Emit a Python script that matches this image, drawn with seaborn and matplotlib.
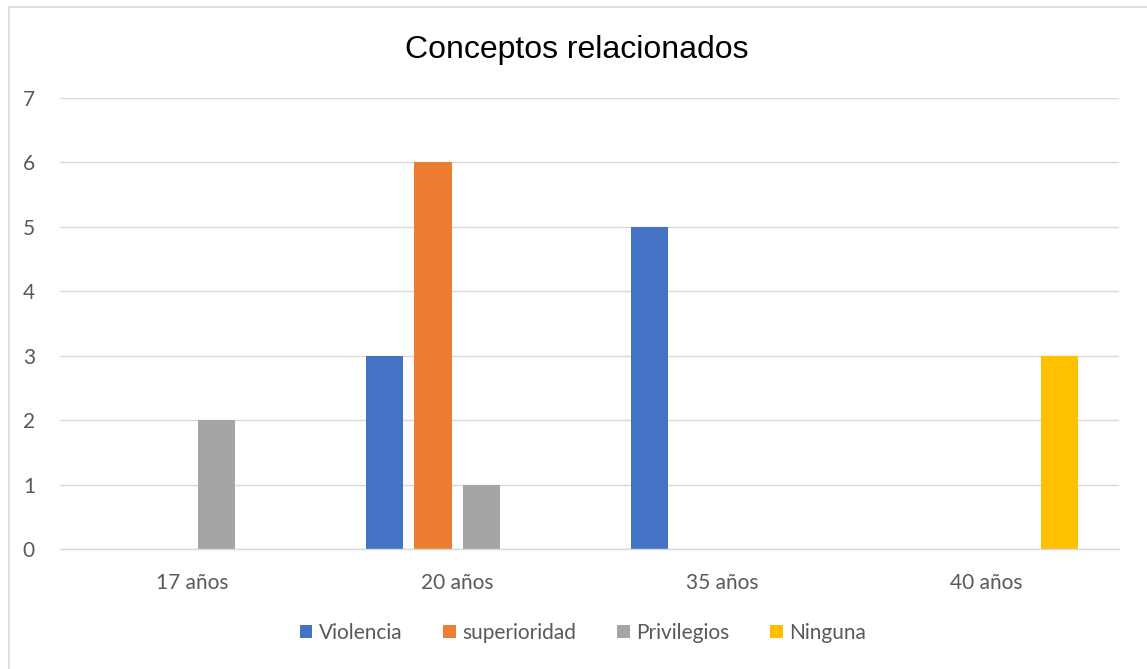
import matplotlib
matplotlib.use("Agg")
import matplotlib.pyplot as plt
import pandas as pd
import seaborn as sns
from matplotlib.lines import Line2D

# data
ages = ["17 años", "20 años", "35 años", "40 años"]
series = ["Violencia", "superioridad", "Privilegios", "Ninguna"]
violencia = [0, 3, 5, 0]
superioridad = [0, 6, 0, 0]
privilegios = [2, 1, 0, 0]
ninguna = [0, 0, 0, 3]
colors = ["#4472C4", "#ED7D31", "#A5A5A5", "#FFC000"]

rows = []
for name, vals in zip(series, [violencia, superioridad, privilegios, ninguna]):
    for age, v in zip(ages, vals):
        rows.append({"edad": age, "concepto": name, "valor": v})
df = pd.DataFrame(rows)

sns.set_theme(style="white")
plt.rcParams["font.family"] = ["Lato", "DejaVu Sans"]
text_gray = "#595959"
grid_gray = "#D9D9D9"

fig = plt.figure(figsize=(11.47, 6.69), dpi=100)
ax = fig.add_axes([0.0523, 0.1794, 0.9233, 0.6741])

sns.barplot(data=df, x="edad", y="valor", hue="concepto", order=ages,
            hue_order=series, palette=colors, width=0.73, gap=0.23,
            linewidth=0, saturation=1, errorbar=None, ax=ax, legend=True)

ax.set_ylim(0, 7)
ax.set_xlim(-0.5, 3.5)
ax.set_yticks(range(8))
ax.yaxis.grid(True, color=grid_gray, linewidth=1)
ax.set_axisbelow(True)
for s in ["top", "right", "left"]:
    ax.spines[s].set_visible(False)
ax.spines["bottom"].set_color(grid_gray)
ax.spines["bottom"].set_linewidth(1)
ax.tick_params(axis="both", length=0, labelsize=15, colors=text_gray)
ax.tick_params(axis="y", pad=18)
ax.tick_params(axis="x", pad=17)
ax.set_xlabel("")
ax.set_ylabel("")

handles, labels = ax.get_legend_handles_labels()
ax.legend_.remove()
fig.legend(handles, labels, loc="center", bbox_to_anchor=(0.508, 0.054),
           ncol=4, frameon=False, fontsize=15, handlelength=0.62,
           handleheight=0.62, handletextpad=0.3, columnspacing=1.95,
           labelcolor=text_gray)

fig.text(0.503, 0.926, "Conceptos relacionados", ha="center", va="center",
         fontsize=23, family=["Liberation Sans", "DejaVu Sans"], color="#000000")

# chart border (left and top visible)
fig.add_artist(Line2D([0.0075, 0.0075], [0, 0.9895], transform=fig.transFigure,
                      color=grid_gray, linewidth=1.2))
fig.add_artist(Line2D([0.0075, 1.0], [0.9895, 0.9895], transform=fig.transFigure,
                      color=grid_gray, linewidth=1.2))

fig.savefig("out.png", dpi=100, facecolor="white")
